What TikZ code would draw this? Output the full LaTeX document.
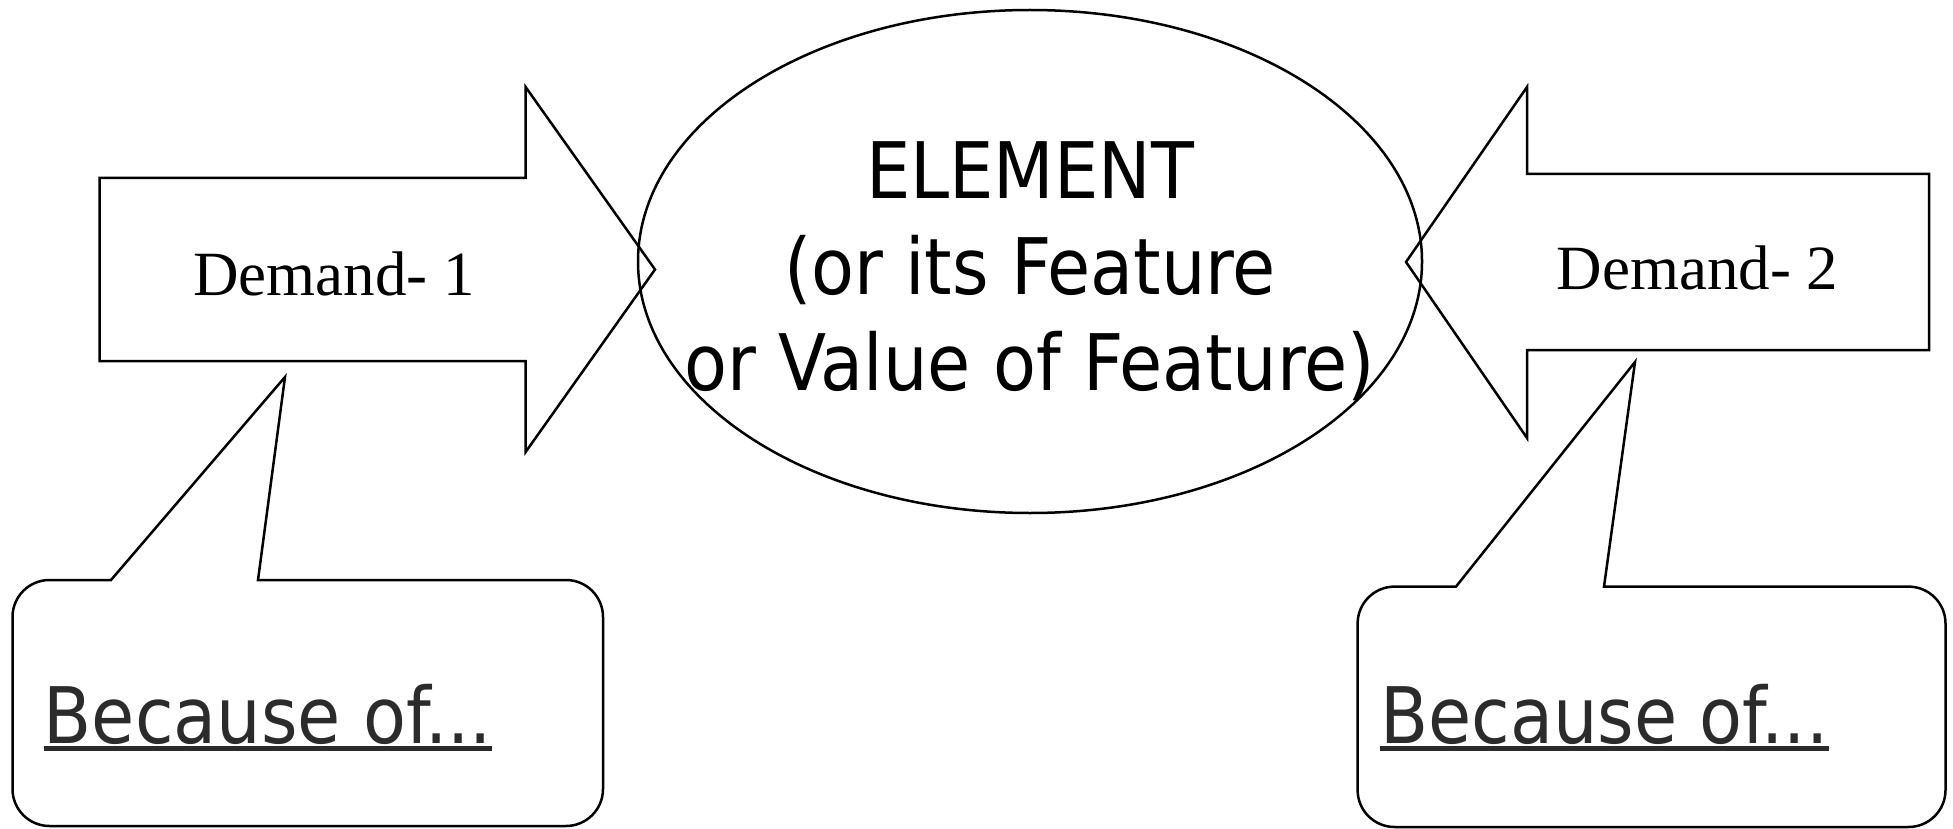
\documentclass[tikz,border=0pt]{standalone}
\usepackage{fontspec}
\setmainfont{Liberation Serif}
\newfontfamily\elemfont{DejaVu Sans Condensed}
\definecolor{txtgray}{HTML}{2B2B2B}
\tikzset{
  shape line/.style={draw=black, line width=2.5pt, line join=miter},
  demandtext/.style={inner sep=0pt, anchor=base, font=\fontsize{63}{70}\selectfont},
  becausetext/.style={inner sep=0pt, anchor=base west, text=txtgray, font=\elemfont\fontsize{78}{90}\selectfont},
  underl/.style={draw=txtgray, line width=5.5pt},
}
\begin{document}
\begin{tikzpicture}[x=1pt,y=1pt]
\useasboundingbox (0,0) rectangle (1953,-829);
% central ellipse
\draw[shape line] (1030,-261.5) ellipse [x radius=392pt, y radius=251.5pt];
\node[inner sep=0pt, align=center, anchor=base, font=\elemfont\fontsize{78}{95.7}\selectfont] (elem) at (1030,-390)
  {ELEMENT\\(or its Feature\hspace*{0.6em}\\or Value of Feature)};
% left arrow
\draw[shape line] (99.6,-178) -- (525.6,-178) -- (525.6,-87) -- (655,-269.5) -- (525.6,-452) -- (525.6,-361) -- (99.6,-361) -- cycle;
\node[demandtext] (d1) at (334,-295) {Demand- 1};
% right arrow
\draw[shape line] (1929,-174) -- (1527,-174) -- (1527,-87) -- (1406,-262) -- (1527,-438) -- (1527,-350) -- (1929,-350) -- cycle;
\node[demandtext] (d2) at (1697.6,-289) {Demand- 2};
% left callout
\draw[shape line] (258,-580) -- (566,-580) arc[start angle=90, end angle=0, radius=37pt]
  -- (603,-789) arc[start angle=0, end angle=-90, radius=37pt]
  -- (49.5,-826) arc[start angle=270, end angle=180, radius=37pt]
  -- (12.5,-617) arc[start angle=180, end angle=90, radius=37pt]
  -- (111,-580) -- (285,-377) -- cycle;
\node[becausetext] (b1) at (43.6,-743.6) {Because of...};
\draw[underl] ([yshift=-5pt]b1.base west) -- ([yshift=-5pt]b1.base east);
% right callout
\draw[shape line] (1604,-586.6) -- (1908.5,-586.6) arc[start angle=90, end angle=0, radius=37pt]
  -- (1945.5,-790) arc[start angle=0, end angle=-90, radius=37pt]
  -- (1394.6,-827) arc[start angle=270, end angle=180, radius=37pt]
  -- (1357.6,-623.6) arc[start angle=180, end angle=90, radius=37pt]
  -- (1456,-586.6) -- (1635,-362) -- cycle;
\node[becausetext] (b2) at (1380,-743.6) {Because of...};
\draw[underl] ([yshift=-5pt]b2.base west) -- ([yshift=-5pt]b2.base east);
\end{tikzpicture}
\end{document}
